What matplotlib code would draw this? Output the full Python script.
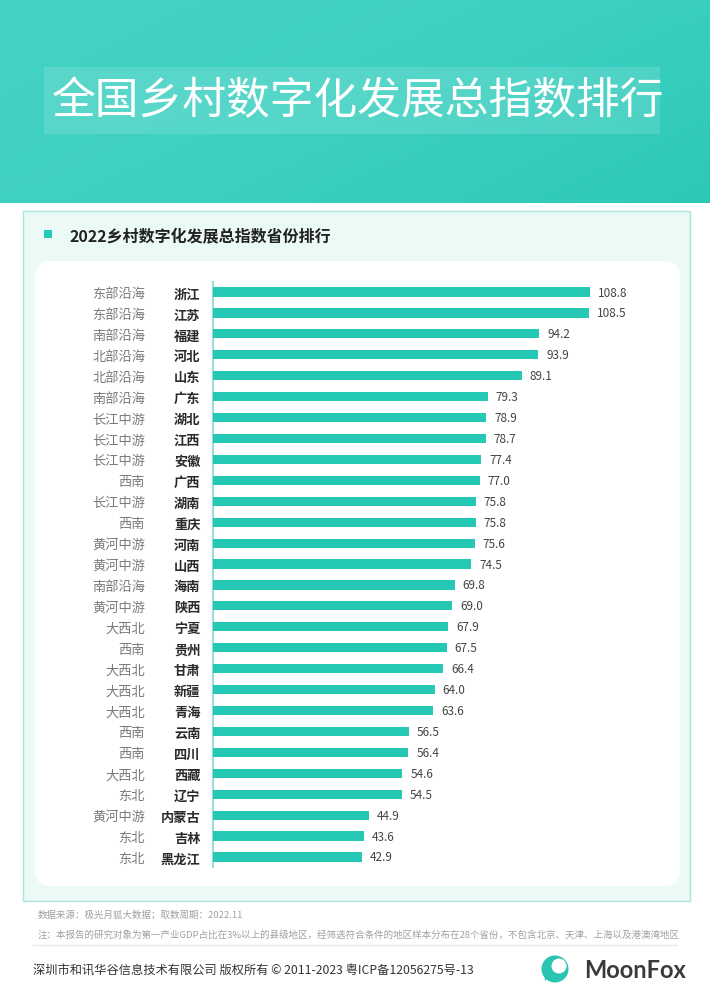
import matplotlib
matplotlib.use('Agg')
import matplotlib.pyplot as plt
from matplotlib.patches import Rectangle, FancyBboxPatch, Circle, Polygon
import numpy as np

plt.rcParams['font.family'] = ['Noto Sans CJK SC', 'DejaVu Sans']

regions = ['东部沿海', '东部沿海', '南部沿海', '北部沿海', '北部沿海', '南部沿海',
           '长江中游', '长江中游', '长江中游', '西南', '长江中游', '西南',
           '黄河中游', '黄河中游', '南部沿海', '黄河中游', '大西北', '西南',
           '大西北', '大西北', '大西北', '西南', '西南', '大西北',
           '东北', '黄河中游', '东北', '东北']
provinces = ['浙江', '江苏', '福建', '河北', '山东', '广东', '湖北', '江西',
             '安徽', '广西', '湖南', '重庆', '河南', '山西', '海南', '陕西',
             '宁夏', '贵州', '甘肃', '新疆', '青海', '云南', '四川', '西藏',
             '辽宁', '内蒙古', '吉林', '黑龙江']
values = [108.8, 108.5, 94.2, 93.9, 89.1, 79.3, 78.9, 78.7, 77.4, 77.0,
          75.8, 75.8, 75.6, 74.5, 69.8, 69.0, 67.9, 67.5, 66.4, 64.0,
          63.6, 56.5, 56.4, 54.6, 54.5, 44.9, 43.6, 42.9]

title = '全国乡村数字化发展总指数排行'
subtitle = '2022乡村数字化发展总指数省份排行'
note1 = '数据来源：极光月狐大数据；取数周期：2022.11'
note2 = ('注：本报告的研究对象为第一产业GDP占比在3%以上的县级地区，经筛选符合条件的地区样本分布在28个省份，'
         '不包含北京、天津、上海以及港澳湾地区')
footer = '深圳市和讯华谷信息技术有限公司 版权所有 © 2011-2023 粤ICP备12056275号-13'

W, H = 710, 1004
teal = '#25c7b5'

fig = plt.figure(figsize=(W / 100, H / 100), dpi=100)
fig.patch.set_facecolor('white')

# background canvas in pixel coords
bg = fig.add_axes([0, 0, 1, 1])
bg.set_xlim(0, W)
bg.set_ylim(H, 0)
bg.axis('off')

# header band with a soft gradient
grad = np.linspace(0, 1, 256).reshape(1, -1)
grad = grad + np.linspace(0, 0.6, 64).reshape(-1, 1)
bg.imshow(grad, extent=(0, W, 204, 0), cmap=matplotlib.colors.LinearSegmentedColormap.from_list(
    'hdr', ['#45d3c5', '#3dd0c1', '#2dc9b8']), aspect='auto', zorder=0)
bg.add_patch(Rectangle((44, 68), 616, 67, facecolor='white', alpha=0.13,
                       edgecolor='none', zorder=1))
bg.text(52, 101, title, color='white', fontsize=31.5, va='center', ha='left', zorder=2)

# outer panel and inner card
bg.add_patch(Rectangle((23, 212), 667, 690, facecolor='#ebf9f7',
                       edgecolor='#a9e4dd', lw=1, zorder=1))
bg.add_patch(FancyBboxPatch((35, 262), 645, 625, boxstyle='round,pad=0,rounding_size=16',
                            facecolor='white', edgecolor='none', zorder=1))
bg.add_patch(Rectangle((44, 231), 8, 8, facecolor=teal, edgecolor='none', zorder=2))
bg.text(70, 236, subtitle, fontsize=11.5, fontweight='bold', color='#222222',
        va='center', ha='left', zorder=2)

# notes and footer
bg.text(38, 915, note1, fontsize=6.8, color='#a0a0a0', style='italic', va='center')
bg.text(38, 935, note2, fontsize=6.8, color='#a0a0a0', style='italic', va='center')
bg.plot([33, 677], [946, 946], color='#e8e8e8', lw=1)
bg.text(33, 971, footer, fontsize=8.8, color='#333333', va='center')

# logo
bg.add_patch(Circle((555, 970), 13.5, facecolor='#2bc3b2', edgecolor='none'))
bg.add_patch(Circle((559, 967), 7.5, facecolor='white', edgecolor='none'))
bg.add_patch(Polygon([[544, 972], [552, 974], [545, 982]], closed=True,
                     facecolor='#2bc3b2', edgecolor='none'))
bg.text(584, 971, 'MoonFox', fontsize=17, fontweight='bold', color='#3a3a3a',
        va='center', ha='left', family=['Lato', 'DejaVu Sans'])

# bar chart
left, right = 213, 663
top, bottom = 283, 868
ax = fig.add_axes([left / W, 1 - bottom / H, (right - left) / W, (bottom - top) / H])
ax.set_facecolor('none')
y = np.arange(len(values))
ax.barh(y, values, height=0.44, color=teal, zorder=3)
ax.set_xlim(0, (right - left) / 3.465)
ax.set_ylim(len(values) - 0.52, -0.48)

for yi, v in zip(y, values):
    ax.text(v + 2.3, yi, f'{v:.1f}', fontsize=8.5, color='#444444',
            va='center', ha='left')
for yi, r in zip(y, regions):
    ax.text(-0.151, yi, r, transform=ax.get_yaxis_transform(), fontsize=9.5,
            color='#7a7a7a', va='center_baseline', ha='right')

ax.set_yticks(y)
ax.set_yticklabels(provinces, fontsize=9.5, fontweight='bold', color='#2a2a2a')
ax.tick_params(axis='y', length=0, pad=9)
ax.set_xticks([])
for s in ['top', 'right', 'bottom']:
    ax.spines[s].set_visible(False)
ax.spines['left'].set_color('#9fded6')
ax.spines['left'].set_linewidth(1.5)

fig.savefig('out.png', dpi=100)
